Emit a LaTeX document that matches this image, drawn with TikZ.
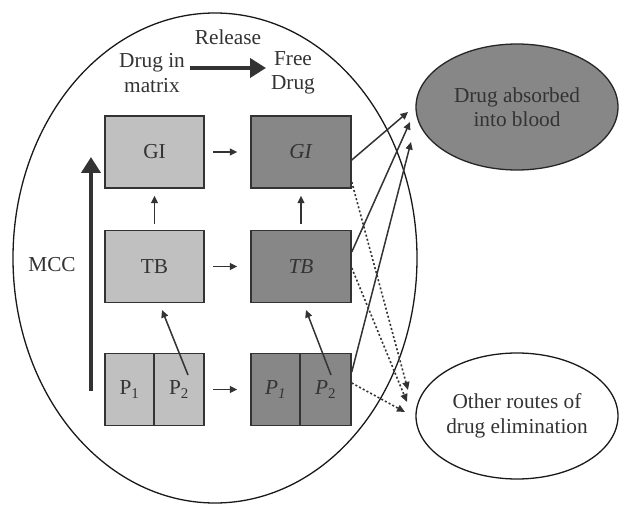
\documentclass[tikz,border=0pt]{standalone}
\usepackage{fontspec}
\setmainfont{Liberation Serif}
\usetikzlibrary{arrows.meta,calc,shapes.geometric}
\definecolor{lightbox}{HTML}{C0C0C0}
\definecolor{darkbox}{HTML}{878787}
\definecolor{ink}{HTML}{333333}
\tikzset{
  box/.style={draw=ink, line width=1.5pt, minimum height=72pt, inner sep=0pt, text=ink,
    font=\fontsize{21.3}{24.5}\selectfont},
  lbox/.style={box, fill=lightbox},
  dbox/.style={box, fill=darkbox},
  lbl/.style={text=ink, align=center, font=\fontsize{21.3}{24.5}\selectfont, inner sep=0pt},
  thinarrow/.style={draw=ink, line width=1.5pt, -{Triangle[length=7.5pt,width=7pt]}},
  dotarrow/.style={draw=ink, line width=1.6pt, dash pattern=on 2pt off 2.2pt, -{Triangle[length=8pt,width=7pt]}},
  thickarrow/.style={draw=ink, line width=4pt, -{Triangle[length=16pt,width=19pt]}},
  outline/.style={draw=black!90, line width=1.3pt}
}
\begin{document}
\begin{tikzpicture}[x=1pt,y=-1pt]
\useasboundingbox[fill=white] (0,0) rectangle (619,505);
% big ellipse
\node[outline, ellipse, minimum width=404pt, minimum height=490pt, inner sep=0pt] (big) at (215,258) {};
% right ellipses
\node[outline, draw=black!85, fill=darkbox, ellipse, minimum width=202pt, minimum height=126pt, lbl] (blood) at (517,107) {Drug absorbed\\into blood};
\node[outline, ellipse, minimum width=202pt, minimum height=126pt, lbl] (other) at (517,416) {Other routes of\\drug elimination};
% header
\node[lbl] (rel) at (228,37) {Release};
\node[lbl] (dim) at (152,73) {Drug in\\matrix};
\node[lbl] (fd) at (293,73) {Free\\Drug};
\coordinate (rs) at (190,68);
\coordinate (re) at (266,68);
\draw[thickarrow] (rs) -- (re);
% MCC
\node[lbl] (mcc) at (52,265) {MCC};
\coordinate (ms) at (91,391);
\coordinate (me) at (91,157);
\draw[thickarrow] (ms) -- (me);
% boxes
\node[lbox, minimum width=99pt] (gl) at (154.5,152) {GI};
\node[dbox, minimum width=100pt] (gr) at (301,152) {\textit{GI}};
\node[lbox, minimum width=99pt] (tl) at (154.5,266.5) {TB};
\node[dbox, minimum width=100pt] (tr) at (301,266.5) {\textit{TB}};
\node[lbox, minimum width=49pt] (p1l) at (129.5,389.5) {P\textsubscript{1}};
\node[lbox, minimum width=50pt] (p2l) at (179,389.5) {P\textsubscript{2}};
\node[dbox, minimum width=49pt] (p1r) at (275.5,389.5) {\textit{P}\textsubscript{\textit{1}}};
\node[dbox, minimum width=51pt] (p2r) at (325.5,389.5) {\textit{P}\textsubscript{2}};
% horizontal arrows
\draw[thinarrow, shorten <=8.5pt, shorten >=13pt] (gl.east) -- (gr.west);
\draw[thinarrow, shorten <=8.5pt, shorten >=13pt] (tl.east) -- (tr.west);
\draw[thinarrow, shorten <=8.5pt, shorten >=13pt] (p2l.east) -- (p1r.west);
% vertical arrows
\draw[thinarrow, shorten <=6pt, shorten >=7pt] (tl.north) -- (gl.south);
\draw[thinarrow, shorten <=6pt, shorten >=7pt] (tr.north) -- (gr.south);
% diagonal arrows
\coordinate (dls) at (188,375);
\coordinate (dle) at (162,310);
\coordinate (drs) at (331,375);
\coordinate (dre) at (306,310);
\draw[thinarrow] (dls) -- (dle);
\draw[thinarrow] (drs) -- (dre);
% to blood
\coordinate (b1) at (408,112);
\coordinate (b2) at (410,122);
\coordinate (b3) at (411,142);
\draw[thinarrow] ($(gr.east)+(0,8)$) -- (b1);
\draw[thinarrow] ($(tr.east)+(0,-14.5)$) -- (b2);
\draw[thinarrow] ($(p2r.east)+(0,-17.5)$) -- (b3);
% to other routes
\coordinate (o1) at (408,390);
\coordinate (o2) at (407,402);
\coordinate (o3) at (405,412);
\draw[dotarrow] ($(gr.east)+(0,30)$) -- (o1);
\draw[dotarrow] ($(tr.east)+(0,1.5)$) -- (o2);
\draw[dotarrow] ($(p2r.east)+(0,-6.5)$) -- (o3);
\end{tikzpicture}
\end{document}
